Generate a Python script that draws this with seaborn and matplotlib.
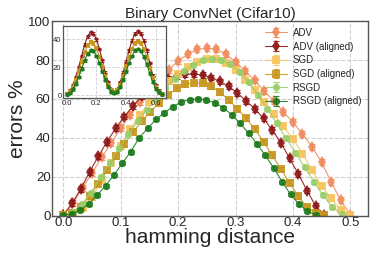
import numpy as np
import pandas as pd
import matplotlib
matplotlib.use("Agg")
import matplotlib.pyplot as plt
import seaborn as sns
from matplotlib.legend_handler import HandlerTuple
from matplotlib.lines import Line2D

# ---------------- data ----------------
labels = ["ADV", "ADV (aligned)", "SGD", "SGD (aligned)", "RSGD", "RSGD (aligned)"]
# total hamming distance spanned by each path (31 evenly spaced points from 0 to it)
max_dist = [0.5, 0.455, 0.5, 0.455, 0.485, 0.44]
n_points = 31

adv = [0.5, 6.5, 14.5, 22, 30, 37.5, 45, 52, 58.5, 64.5, 70, 75, 79.5, 83, 85.5, 86,
       85.5, 83, 79, 74.5, 69.5, 64, 59, 53.5, 48, 42, 35.5, 27.5, 17.5, 8, 0.5]
adv_al = [0.5, 6.5, 14, 22.5, 30.5, 38, 45, 51, 56.5, 61.5, 65.5, 68.5, 70.5, 72, 72.8, 72.8,
          72.3, 71, 69, 66.5, 63, 59, 55, 50, 44, 37.5, 29.5, 21.5, 13, 5, 0.5]
sgd = [0.5, 1.5, 4, 9.5, 18.5, 27, 36, 44.5, 52, 58.5, 64, 69, 73, 76.5, 79, 80.5,
       80.5, 78.5, 75, 70, 64.5, 58.5, 52.5, 46, 39.5, 32, 23.5, 15.5, 9, 3, 0.5]
sgd_al = [0.5, 1.5, 4.5, 10, 16.5, 23.5, 30.5, 37, 43, 48.5, 53.5, 58, 62, 65.5, 67.5, 68.2,
          68, 66.5, 63.5, 59.5, 55, 50, 44.5, 38, 31, 24, 17, 10, 4.5, 1.5, 0.5]
rsgd = [0.5, 2, 6, 12, 20, 27, 35, 42, 48.5, 54.5, 60, 65.5, 70.5, 74.5, 77.5, 80,
        80.5, 80, 78, 74, 68.5, 62, 55, 47.5, 40, 32.5, 25, 17.5, 10.5, 4.5, 1]
rsgd_al = [0.3, 1, 3, 6, 10.5, 15.5, 21, 27, 33, 40, 45, 49.5, 53, 56, 58.5, 59.7,
           60, 59.5, 58, 55.5, 52, 47.5, 42.5, 37, 31, 24.5, 17.5, 11, 6, 2.5, 0.5]
series = [adv, adv_al, sgd, sgd_al, rsgd, rsgd_al]
err = [1.5, 1.5, 1.2, 1.2, 1.0, 1.0]

# inset (errors along the two-leg path)
inset_x = [0.00, 0.02, 0.04, 0.06, 0.08, 0.10, 0.12, 0.14, 0.16, 0.18, 0.20, 0.22, 0.24,
           0.26, 0.28, 0.30, 0.32, 0.34, 0.36, 0.38, 0.40, 0.42, 0.44, 0.46, 0.48, 0.50,
           0.52, 0.54, 0.56, 0.58, 0.60, 0.62, 0.64]
inset_adv = [1, 3, 7, 13, 20, 28, 36, 42, 45, 44, 40, 33, 25, 16, 9, 4, 2, 4, 9, 16, 24,
             32, 39, 44, 45.5, 44, 39, 32, 23, 14, 7, 3, 1]
inset_sgd = [1, 2.5, 6, 11, 17, 24, 30.5, 35.5, 38, 37, 33.5, 27.5, 20.5, 13.5, 7.5, 3.5, 2,
             3.5, 7.5, 13.5, 20.5, 27, 33, 37, 38.5, 37, 33, 27, 19.5, 12, 6, 2.5, 1]
inset_rsgd = [0.5, 1.5, 4, 8, 13, 19, 25, 29.5, 32, 31.5, 28, 23, 17, 11, 6, 2.5, 1.5, 2.5,
              6, 11, 17, 23, 28, 32, 33, 31.5, 27.5, 22, 15.5, 9.5, 4.5, 2, 0.5]

# ---------------- style ----------------
colors = ["#f08a5a", "#8e1616", "#f7c55c", "#c8961e", "#9acd68", "#1d7a1d"]
markers = ["d", "d", "s", "s", "o", "o"]
msizes = [6.5, 6.5, 5.2, 5.2, 5.2, 5.2]

sns.set_style("whitegrid", {"grid.linestyle": "--", "grid.color": "#d0d0d0",
                            "axes.edgecolor": "#555555"})
plt.rcParams["font.family"] = ["Liberation Sans", "DejaVu Sans"]

fig = plt.figure(figsize=(3.74, 2.57), dpi=100)
ax = fig.add_axes([0.139, 0.16, 0.845, 0.758])

rows = []
for lab, d, ys in zip(labels, max_dist, series):
    xs = np.linspace(0, d, n_points)
    for xv, yv in zip(xs, ys):
        rows.append({"series": lab, "x": xv, "y": yv})
df = pd.DataFrame(rows)

handles = []
for lab, c, m, ms, e in zip(labels, colors, markers, msizes, err):
    sub = df[df["series"] == lab]
    sns.lineplot(data=sub, x="x", y="y", color=c, marker=m, markersize=ms,
                 markeredgewidth=0, linewidth=0.8, alpha=0.9, ax=ax, legend=False)
    eb = ax.errorbar(sub["x"], sub["y"], yerr=e, fmt="none", ecolor=c,
                     elinewidth=0.8, capsize=2.2, capthick=0.8, alpha=0.9)
    proxy = Line2D([], [], color=c, marker=m, markersize=ms, markeredgewidth=0,
                   linewidth=0.8, alpha=0.9)
    handles.append((proxy, eb))

ax.set_xlim(-0.02, 0.531)
ax.set_ylim(0, 100)
ax.set_xticks([0.0, 0.1, 0.2, 0.3, 0.4, 0.5])
ax.set_yticks([0, 20, 40, 60, 80, 100])
ax.tick_params(labelsize=9.5, pad=1, length=0, colors="#262626")
ax.set_xlabel("hamming distance", fontsize=15, labelpad=-1, color="#262626")
ax.set_ylabel("errors %", fontsize=15, labelpad=1, color="#262626")
ax.set_title("Binary ConvNet (Cifar10)", fontsize=11, pad=2, color="#262626")
for s in ax.spines.values():
    s.set_color("#555555")
    s.set_linewidth(1.0)

ax.legend(handles, labels, handler_map={tuple: HandlerTuple(ndivide=1)},
          loc="upper right", bbox_to_anchor=(1.0, 1.0), frameon=False,
          fontsize=7, labelspacing=0.38, handlelength=2.2, handletextpad=0.6,
          borderaxespad=0.3)

# ---------------- inset ----------------
axin = fig.add_axes([0.168, 0.6175, 0.276, 0.2825])
axin.set_facecolor("white")
idf = pd.DataFrame({"x": inset_x * 3,
                    "y": inset_adv + inset_sgd + inset_rsgd,
                    "series": ["ADV (aligned)"] * len(inset_x) + ["SGD (aligned)"] * len(inset_x)
                              + ["RSGD (aligned)"] * len(inset_x)})
for lab, c, m in [("ADV (aligned)", colors[1], "P"), ("SGD (aligned)", colors[3], "s"),
                  ("RSGD (aligned)", colors[5], "o")]:
    sub = idf[idf["series"] == lab]
    sns.lineplot(data=sub, x="x", y="y", color=c, marker=m, markersize=3,
                 markeredgewidth=0, linewidth=0.8, ax=axin, legend=False)
    axin.errorbar(sub["x"], sub["y"], yerr=1.0, fmt="none", ecolor=c,
                  elinewidth=0.6, capsize=1.2, capthick=0.6)
axin.set_xlim(-0.027, 0.67)
axin.set_ylim(-2.3, 49.6)
axin.set_xticks([0.0, 0.2, 0.4, 0.6])
axin.set_yticks([0, 20, 40])
axin.tick_params(labelsize=5.5, pad=1, length=0, colors="#262626")
axin.set_xlabel("")
axin.set_ylabel("")
axin.grid(True, linestyle="--", color="#d0d0d0", linewidth=0.6)
for s in axin.spines.values():
    s.set_color("#555555")
    s.set_linewidth(0.9)

fig.savefig("out.png", dpi=100)
